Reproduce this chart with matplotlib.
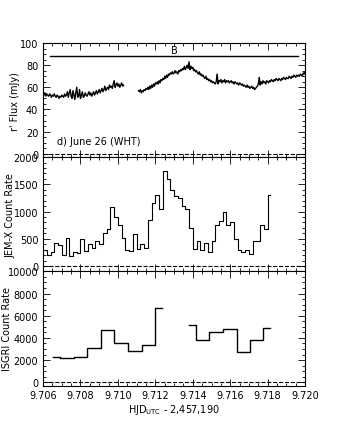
import matplotlib
matplotlib.use('Agg')
import matplotlib.pyplot as plt
from matplotlib.ticker import MultipleLocator
import numpy as np

# optical r' light curve (WHT), two segments, cadence 0.00005 d
opt_t0 = [9.70600, 9.71110]
opt_dt = 0.00005
opt_seg1 = [54, 53, 55, 52, 54, 53, 52, 54, 53, 51,
            53, 52, 54, 52, 51, 53, 52, 50, 52, 51,
            53, 52, 51, 54, 52, 53, 56, 51, 55, 58,
            52, 50, 57, 53, 49, 55, 60, 51, 52, 58,
            50, 53, 56, 51, 52, 55, 53, 52, 54, 56,
            53, 55, 52, 54, 56, 53, 55, 57, 54, 56,
            58, 55, 57, 59, 56, 58, 61, 57, 59, 60,
            58, 62, 60, 61, 59, 63, 66, 60, 62, 64,
            61, 63, 60, 62, 64, 61, 62]
opt_seg2 = [57, 56, 58, 55, 57, 56, 58, 57, 59, 58,
            60, 58, 61, 59, 62, 60, 63, 61, 64, 63,
            65, 63, 66, 64, 67, 66, 68, 67, 70, 68,
            71, 69, 72, 71, 73, 72, 74, 72, 73, 75,
            73, 74, 72, 75, 74, 76, 75, 77, 76, 79,
            76, 78, 80, 77, 83, 76, 79, 77, 78, 75,
            76, 74, 75, 73, 72, 74, 71, 72, 70, 71,
            69, 68, 70, 67, 68, 66, 67, 65, 66, 64,
            65, 64, 63, 65, 72, 63, 66, 65, 67, 64,
            66, 65, 67, 64, 66, 65, 66, 64, 65, 66,
            64, 65, 63, 65, 64, 63, 64, 62, 64, 63,
            62, 63, 61, 62, 61, 60, 62, 60, 61, 59,
            60, 61, 59, 60, 58, 59, 60, 61, 63, 69,
            62, 65, 63, 66, 64, 65, 63, 66, 65, 64,
            66, 65, 67, 66, 65, 67, 66, 68, 67, 66,
            68, 67, 66, 68, 67, 69, 68, 67, 69, 68,
            68, 70, 69, 68, 70, 69, 71, 70, 69, 71,
            70, 71, 70, 72, 71, 70, 73, 72, 74]

# JEM-X light curve, bins of 0.0002 d
jemx_t0 = 9.7061
jemx_dt = 0.0002
jemx_rate = [300, 200, 250, 420, 380, 200, 510, 180, 260, 230,
             500, 280, 400, 330, 450, 400, 600, 680, 1080, 900,
             760, 520, 300, 270, 590, 320, 400, 330, 850, 1150,
             1300, 1050, 1750, 1600, 1400, 1280, 1250, 1100, 1050, 700,
             320, 460, 300, 420, 250, 460, 750, 820, 1000, 750,
             800, 500, 300, 250, 300, 220, 460, 450, 750, 680,
             1300]

# ISGRI light curve, two segments
isgri_t1 = [9.70655, 9.70728, 9.70800, 9.70873, 9.70945, 9.71018, 9.71090, 9.71163, 9.71235]
isgri_r1 = [2260, 2170, 2260, 3070, 4720, 3580, 2800, 3400, 6740]
isgri_t2 = [9.71380, 9.71453, 9.71525, 9.71598, 9.71670, 9.71743, 9.71810]
isgri_r2 = [5200, 3820, 4540, 4780, 2740, 3820, 4900]

# optical state bar
b_start, b_end, b_level = 9.70637, 9.71964, 88

plt.rcParams['font.size'] = 7
plt.rcParams['xtick.direction'] = 'in'
plt.rcParams['ytick.direction'] = 'in'
plt.rcParams['xtick.top'] = True
plt.rcParams['ytick.right'] = True
plt.rcParams['xtick.major.size'] = 5
plt.rcParams['ytick.major.size'] = 5
plt.rcParams['xtick.minor.size'] = 2.5
plt.rcParams['ytick.minor.size'] = 2.5
plt.rcParams['xtick.minor.visible'] = True
plt.rcParams['ytick.minor.visible'] = True

fig = plt.figure(figsize=(3.39, 4.31), dpi=100)
ax1, ax2, ax3 = fig.subplots(3, 1, sharex=True, gridspec_kw=dict(hspace=0))
fig.subplots_adjust(left=0.127, right=0.9, top=0.898, bottom=0.103)

# top: optical
t1 = opt_t0[0] + opt_dt * np.arange(len(opt_seg1))
t2 = opt_t0[1] + opt_dt * np.arange(len(opt_seg2))
ax1.plot(t1, opt_seg1, color='k', lw=1.0)
ax1.plot(t2, opt_seg2, color='k', lw=1.0)
ax1.plot([b_start, b_end], [b_level, b_level], color='k', lw=1.0)
ax1.text((b_start + b_end) / 2, b_level + 1.5, 'B', ha='center', va='bottom', fontsize=7)
ax1.text(9.70673, 12, 'd) June 26 (WHT)', ha='left', va='center', fontsize=7)
ax1.axhline(0, color='k', ls='--', lw=0.8)
ax1.set_ylim(-3, 100)
ax1.yaxis.set_major_locator(MultipleLocator(20))
ax1.yaxis.set_minor_locator(MultipleLocator(5))
ax1.set_ylabel("r' Flux (mJy)")
ax1.yaxis.set_label_coords(-0.088, 0.5)

# middle: JEM-X
tj = jemx_t0 + jemx_dt * np.arange(len(jemx_rate))
ax2.plot(tj, jemx_rate, color='k', lw=0.8, drawstyle='steps-mid')
ax2.axhline(0, color='k', ls='--', lw=0.8)
ax2.set_ylim(-100, 2000)
ax2.yaxis.set_major_locator(MultipleLocator(500))
ax2.yaxis.set_minor_locator(MultipleLocator(100))
ax2.set_ylabel('JEM-X Count Rate')
ax2.yaxis.set_label_coords(-0.106, 0.5)

# bottom: ISGRI
ax3.plot(isgri_t1, isgri_r1, color='k', lw=1.0, drawstyle='steps-mid')
ax3.plot(isgri_t2, isgri_r2, color='k', lw=1.0, drawstyle='steps-mid')
ax3.axhline(0, color='k', ls='--', lw=0.8)
ax3.set_ylim(-300, 10000)
ax3.yaxis.set_major_locator(MultipleLocator(2000))
ax3.yaxis.set_minor_locator(MultipleLocator(500))
ax3.set_ylabel('ISGRI Count Rate')
ax3.yaxis.set_label_coords(-0.118, 0.5)

ax3.set_xlim(9.706, 9.720)
ax3.xaxis.set_major_locator(MultipleLocator(0.002))
ax3.xaxis.set_minor_locator(MultipleLocator(0.0005))
ax3.xaxis.set_major_formatter(plt.FormatStrFormatter('%.3f'))
ax3.set_xlabel(r'HJD$_{\rm UTC}$ - 2,457,190', labelpad=1)

for ax in (ax1, ax2, ax3):
    ax.tick_params(which='both', width=0.6)

fig.savefig('out.png', dpi=100)
